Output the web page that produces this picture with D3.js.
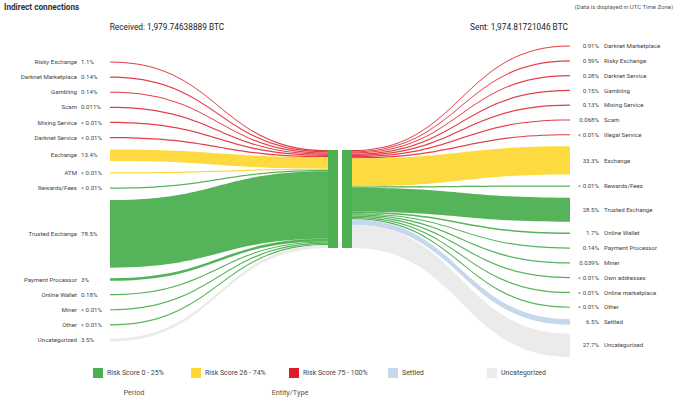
<!DOCTYPE html>
<html><head><meta charset="utf-8">
<script src="https://cdn.jsdelivr.net/npm/d3@7"></script>
<style>
html,body{margin:0;padding:0;background:#fff;}
svg{display:block;font-family:Roboto,"Noto Sans",sans-serif;}
</style></head>
<body>
<svg id="chart" width="682" height="403"></svg>
<script>
// ---- data ----
const title = "Indirect connections";
const note = "(Data is displayed in UTC Time Zone)";
const receivedLabel = "Received: 1,979.74638889 BTC";
const sentLabel = "Sent: 1,974.81721046 BTC";

const leftNames = ["Risky Exchange","Darknet Marketplace","Gambling","Scam","Mixing Service","Darknet Service","Exchange","ATM","Rewards/Fees","Trusted Exchange","Payment Processor","Online Wallet","Miner","Other","Uncategorized"];
const leftPct = ["1.1%","0.14%","0.14%","0.011%","< 0.01%","< 0.01%","13.4%","< 0.01%","< 0.01%","78.5%","3%","0.18%","< 0.01%","< 0.01%","3.5%"];
const leftValues = [1.1,0.14,0.14,0.011,0.005,0.005,13.4,0.005,0.005,78.5,3,0.18,0.005,0.005,3.5];
const leftRisk = ["high","high","high","high","high","high","medium","medium","low","low","low","low","low","low","uncat"];

const rightNames = ["Darknet Marketplace","Risky Exchange","Darknet Service","Gambling","Mixing Service","Scam","Illegal Service","Exchange","Rewards/Fees","Trusted Exchange","Online Wallet","Payment Processor","Miner","Own addresses","Online marketplace","Other","Settled","Uncategorized"];
const rightPct = ["0.91%","0.59%","0.28%","0.15%","0.13%","0.068%","< 0.01%","33.3%","< 0.01%","28.5%","1.7%","0.14%","0.039%","< 0.01%","< 0.01%","< 0.01%","6.5%","27.7%"];
const rightValues = [0.91,0.59,0.28,0.15,0.13,0.068,0.005,33.3,0.005,28.5,1.7,0.14,0.039,0.005,0.005,0.005,6.5,27.7];
const rightRisk = ["high","high","high","high","high","high","high","medium","low","low","low","low","low","low","low","low","settled","uncat"];

const legendKeys = ["low","medium","high","settled","uncat"];
const legendLabels = ["Risk Score 0 - 25%","Risk Score 26 - 74%","Risk Score 75 - 100%","Settled","Uncategorized"];
const axisLabels = ["Period","Entity/Type"];

// ---- styles ----
const color = d3.scaleOrdinal()
  .domain(["low","medium","high","settled","uncat"])
  .range(["#4caf50","#fdd835","#dd1c24","#c5d8ec","#ebebeb"]);
const flowOpacity = {low:0.95, medium:0.95, high:0.85, settled:1, uncat:1};

const svg = d3.select("#chart");

// ---- layout helpers ----
const minW = 1.2;     // minimum ribbon thickness
const minSlot = 6.4;  // minimum vertical slot of an outer node
const nodeH = 98;
const centerTop = 150;

function layout(values, outerTop, outerBottom) {
  const sum = d3.sum(values);
  let lo = 0, hi = nodeH / sum * 2;
  const total = k => d3.sum(values, v => Math.max(minW, v * k));
  for (let i = 0; i < 60; i++) { const m = (lo + hi) / 2; if (total(m) > nodeH) hi = m; else lo = m; }
  const th = d3.scaleLinear().domain([0, sum]).range([0, lo * sum]);
  const t = values.map(v => Math.max(minW, th(v)));
  const slots = t.map(w => Math.max(minSlot, w));
  const pad = (outerBottom - outerTop - d3.sum(slots)) / (values.length - 1);
  let yc = centerTop, yo = outerTop;
  return t.map((w, i) => {
    const mid = yo + slots[i] / 2;
    const r = {w, c0: yc, c1: yc + w, o0: mid - w / 2, o1: mid + w / 2, mid};
    yc += w; yo += slots[i] + pad;
    return r;
  });
}

const X = d3.scaleLinear().domain([0, 1]).range([110, 570]);
const xLeftOuter = X(0), xRightOuter = X(1);
const xLeftNode0 = 328, xLeftNode1 = 338, xRightNode0 = 342, xRightNode1 = 352;

function ribbon(xa, ya0, ya1, xb, yb0, yb1) {
  const xm = (xa + xb) / 2;
  const p = d3.path();
  p.moveTo(xa, ya0);
  p.bezierCurveTo(xm, ya0, xm, yb0, xb, yb0);
  p.lineTo(xb, yb1);
  p.bezierCurveTo(xm, yb1, xm, ya1, xa, ya1);
  p.closePath();
  return p.toString();
}

const L = layout(leftValues, 58.8, 343.2);
const R = layout(rightValues, 42.8, 357);

// ---- flows ----
svg.append("g").selectAll("path").data(L).join("path")
  .attr("d", d => ribbon(xLeftOuter, d.o0, d.o1, xLeftNode0, d.c0, d.c1))
  .attr("fill", (d, i) => color(leftRisk[i]))
  .attr("fill-opacity", (d, i) => flowOpacity[leftRisk[i]]);

svg.append("g").selectAll("path").data(R).join("path")
  .attr("d", d => ribbon(xRightNode1, d.c0, d.c1, xRightOuter, d.o0, d.o1))
  .attr("fill", (d, i) => color(rightRisk[i]))
  .attr("fill-opacity", (d, i) => flowOpacity[rightRisk[i]]);

// ---- center nodes ----
svg.append("rect").attr("x", xLeftNode0).attr("y", centerTop)
  .attr("width", xLeftNode1 - xLeftNode0).attr("height", d3.max(L, d => d.c1) - centerTop)
  .attr("fill", color("low"));
svg.append("rect").attr("x", xRightNode0).attr("y", centerTop)
  .attr("width", xRightNode1 - xRightNode0).attr("height", d3.max(R, d => d.c1) - centerTop)
  .attr("fill", color("low"));

// ---- labels ----
const lab = svg.append("g").attr("font-size", 6.1).attr("fill", "#444");
lab.selectAll("text.ln").data(L).join("text").attr("class", "ln")
  .attr("x", 77).attr("y", d => d.mid).attr("dy", "0.35em")
  .attr("text-anchor", "end").text((d, i) => leftNames[i]);
lab.selectAll("text.lp").data(L).join("text").attr("class", "lp")
  .attr("x", 81).attr("y", d => d.mid).attr("dy", "0.35em")
  .text((d, i) => leftPct[i]);
lab.selectAll("text.rp").data(R).join("text").attr("class", "rp")
  .attr("x", 599).attr("y", d => d.mid).attr("dy", "0.35em")
  .attr("text-anchor", "end").text((d, i) => rightPct[i]);
lab.selectAll("text.rn").data(R).join("text").attr("class", "rn")
  .attr("x", 604).attr("y", d => d.mid).attr("dy", "0.35em")
  .text((d, i) => rightNames[i]);

// ---- titles ----
svg.append("text").attr("x", 4).attr("y", 10).attr("font-size", 8.2).attr("font-weight", "bold")
  .attr("fill", "#333").text(title);
svg.append("text").attr("x", 673).attr("y", 9).attr("font-size", 6).attr("text-anchor", "end")
  .attr("fill", "#555").text(note);
svg.append("text").attr("x", 167).attr("y", 29.5).attr("font-size", 8.3).attr("text-anchor", "middle")
  .attr("fill", "#222").text(receivedLabel);
svg.append("text").attr("x", 519).attr("y", 29.5).attr("font-size", 8.3).attr("text-anchor", "middle")
  .attr("fill", "#222").text(sentLabel);

// ---- legend ----
const legendX = [93, 191, 289, 388, 487];
const lg = svg.append("g").selectAll("g").data(legendKeys).join("g")
  .attr("transform", (d, i) => `translate(${legendX[i]},368)`);
lg.append("rect").attr("width", 10).attr("height", 10).attr("fill", d => color(d));
lg.append("text").attr("x", 14).attr("y", 5).attr("dy", "0.35em").attr("font-size", 7)
  .attr("fill", "#444").text((d, i) => legendLabels[i]);

const axX = [134, 290];
svg.append("g").selectAll("text").data(axisLabels).join("text")
  .attr("x", (d, i) => axX[i]).attr("y", 392.5).attr("dy", "0.35em").attr("text-anchor", "middle")
  .attr("font-size", 7.3).attr("fill", "#555").text(d => d);
</script>
</body></html>
